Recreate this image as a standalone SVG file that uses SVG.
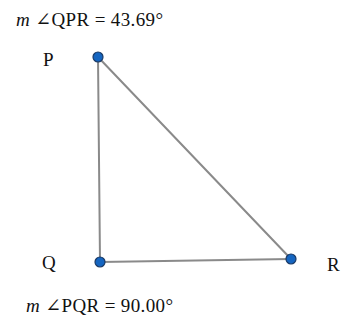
<svg xmlns="http://www.w3.org/2000/svg" width="348" height="322" viewBox="0 0 348 322">
<style>
.t{font-family:"Liberation Serif","DejaVu Serif",serif;font-size:19px;fill:#111}
.e{stroke:#8a8a8a;stroke-width:2;fill:none;stroke-linecap:round}
.pt{fill:#1565c0;stroke:#1a3a66;stroke-width:1.2}
</style>
<rect width="348" height="322" fill="#fff"/>
<g id="connectors">
<line class="e" x1="98" y1="57" x2="100" y2="262"/>
<line class="e" x1="98" y1="57" x2="291" y2="259"/>
<line class="e" x1="100" y1="262" x2="291" y2="259"/>
</g>
<g id="label-QPR"><text class="t" x="16" y="26" textLength="147" lengthAdjust="spacing"><tspan font-style="italic">m</tspan> ∠QPR = 43.69°</text></g>
<g id="P"><circle class="pt" cx="98" cy="57" r="5"/><text class="t" x="43" y="66">P</text></g>
<g id="Q"><circle class="pt" cx="100" cy="262" r="5"/><text class="t" x="42" y="269">Q</text></g>
<g id="R"><circle class="pt" cx="291" cy="259" r="5"/><text class="t" x="327" y="271">R</text></g>
<g id="label-PQR"><text class="t" x="26" y="312" textLength="147" lengthAdjust="spacing"><tspan font-style="italic">m</tspan> ∠PQR = 90.00°</text></g>
</svg>
